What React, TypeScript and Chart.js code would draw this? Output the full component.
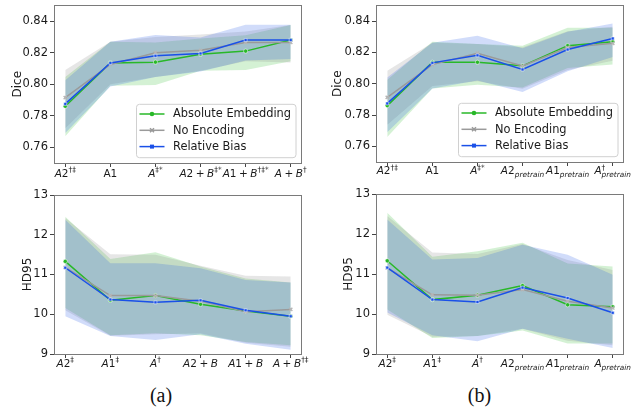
import React, { useEffect, useRef } from "react";
import { Chart, registerables } from "chart.js";
Chart.register(...registerables);

// ---------- data ----------
const seriesNames = ["Absolute Embedding", "No Encoding", "Relative Bias"];
const seriesColors = ["#28b828", "#9a9a9a", "#1a50e8"];
const bandColors = ["rgba(40,184,40,0.2)", "rgba(128,128,128,0.2)", "rgba(26,80,232,0.2)"];
const xPositions = [0, 1, 2, 3, 4, 5];

const xLabelsDiceA = ["$A2^{†‡}", "A1", "$A^{‡*}", "$A2 + B^{‡*}", "$A1 + B^{†‡*}", "$A + B^{†}"];
const xLabelsDiceB = ["$A2^{†‡}", "A1", "$A^{‡*}", "$A2_{pretrain}", "$A1_{pretrain}", "$A^{†}_{pretrain}"];
const xLabelsHdA = ["$A2^{‡}", "$A1^{‡}", "$A^{†}", "$A2 + B", "$A1 + B", "$A + B^{†‡}"];
const xLabelsHdB = ["$A2^{‡}", "$A1^{‡}", "$A^{†}", "$A2_{pretrain}", "$A1_{pretrain}", "$A_{pretrain}"];

const diceTicks = [0.76, 0.78, 0.8, 0.82, 0.84];
const hdTicks = [9, 10, 11, 12, 13];

// Dice (a)
const diceA_abs = [0.786, 0.8135, 0.814, 0.819, 0.821, 0.828];
const diceA_none = [0.7915, 0.8125, 0.82, 0.8215, 0.8265, 0.8265];
const diceA_rel = [0.7875, 0.8135, 0.818, 0.8195, 0.828, 0.828];
const diceA_abs_hi = [0.8045, 0.827, 0.8265, 0.829, 0.831, 0.8375];
const diceA_abs_lo = [0.767, 0.799, 0.7995, 0.8085, 0.809, 0.8145];
const diceA_none_hi = [0.809, 0.827, 0.83, 0.8315, 0.8335, 0.8375];
const diceA_none_lo = [0.772, 0.8, 0.8045, 0.8085, 0.8145, 0.8138];
const diceA_rel_hi = [0.8025, 0.827, 0.8312, 0.8297, 0.8377, 0.8377];
const diceA_rel_lo = [0.769, 0.7985, 0.8045, 0.808, 0.815, 0.816];

// Dice (b)
const diceB_abs = [0.786, 0.8137, 0.8137, 0.8114, 0.8243, 0.8268];
const diceB_none = [0.7913, 0.8122, 0.8195, 0.8114, 0.8231, 0.8258];
const diceB_rel = [0.7874, 0.8133, 0.8181, 0.8091, 0.8218, 0.8289];
const diceB_abs_hi = [0.8025, 0.8268, 0.8254, 0.8243, 0.8358, 0.8358];
const diceB_abs_lo = [0.766, 0.797, 0.7993, 0.7975, 0.8101, 0.8122];
const diceB_none_hi = [0.8083, 0.8262, 0.8254, 0.8233, 0.8335, 0.8364];
const diceB_none_lo = [0.7738, 0.7985, 0.8015, 0.7967, 0.8087, 0.8147];
const diceB_rel_hi = [0.8039, 0.8262, 0.8306, 0.8227, 0.8331, 0.8385];
const diceB_rel_lo = [0.769, 0.797, 0.802, 0.7947, 0.808, 0.817];

// HD95 (a)
const hdA_abs = [11.33, 10.35, 10.47, 10.25, 10.08, 9.95];
const hdA_none = [11.18, 10.47, 10.47, 10.33, 10.06, 10.12];
const hdA_rel = [11.17, 10.37, 10.3, 10.35, 10.1, 9.95];
const hdA_abs_hi = [12.45, 11.39, 11.56, 11.2, 10.9, 10.8];
const hdA_abs_lo = [10.16, 9.47, 9.52, 9.47, 9.3, 9.22];
const hdA_none_hi = [12.42, 11.51, 11.5, 11.22, 10.97, 10.95];
const hdA_none_lo = [10.1, 9.46, 9.5, 9.52, 9.28, 9.18];
const hdA_rel_hi = [12.38, 11.28, 11.28, 11.16, 10.86, 10.8];
const hdA_rel_lo = [9.95, 9.45, 9.35, 9.5, 9.26, 9.11];

// HD95 (b)
const hdB_abs = [11.33, 10.36, 10.47, 10.71, 10.23, 10.18];
const hdB_none = [11.15, 10.48, 10.47, 10.61, 10.32, 10.15];
const hdB_rel = [11.16, 10.36, 10.3, 10.66, 10.4, 10.03];
const hdB_abs_hi = [12.53, 11.43, 11.57, 11.78, 11.26, 11.19];
const hdB_abs_lo = [10.11, 9.4, 9.45, 9.59, 9.26, 9.26];
const hdB_none_hi = [12.45, 11.54, 11.5, 11.75, 11.35, 11.1];
const hdB_none_lo = [9.98, 9.43, 9.45, 9.63, 9.33, 9.22];
const hdB_rel_hi = [12.36, 11.36, 11.4, 11.73, 11.48, 10.98];
const hdB_rel_lo = [10.04, 9.47, 9.32, 9.63, 9.38, 9.15];

// ---------- helpers ----------
const FONT = '"DejaVu Sans", sans-serif';
const pts = (arr: number[]) => arr.map((v, i) => ({ x: xPositions[i], y: v }));

type Seg = { text: string; kind: "base" | "sup" | "sub" };
function parseLabel(raw: string) {
  let s = raw;
  let math = false;
  if (s.startsWith("$")) {
    math = true;
    s = s.slice(1);
  }
  const segs: Seg[] = [];
  let buf = "";
  let i = 0;
  while (i < s.length) {
    const c = s[i];
    if ((c === "^" || c === "_") && s[i + 1] === "{") {
      if (buf) {
        segs.push({ text: buf, kind: "base" });
        buf = "";
      }
      const end = s.indexOf("}", i);
      segs.push({ text: s.slice(i + 2, end), kind: c === "^" ? "sup" : "sub" });
      i = end + 1;
    } else {
      buf += c;
      i++;
    }
  }
  if (buf) segs.push({ text: buf, kind: "base" });
  return { math, segs };
}

function drawMathLabel(ctx: CanvasRenderingContext2D, raw: string, cx: number, baseY: number) {
  const { math, segs } = parseLabel(raw);
  const baseSize = 10.5;
  const scriptSize = 7.4;
  const items: { ch: string; font: string; x: number; dy: number }[] = [];
  let x = 0;
  let supStart = -1;
  let supEnd = 0;
  for (let k = 0; k < segs.length; k++) {
    const seg = segs[k];
    const size = seg.kind === "base" ? baseSize : scriptSize;
    const dy = seg.kind === "sup" ? -4.6 : seg.kind === "sub" ? 3 : 0;
    let sx = x;
    if (seg.kind === "sub" && k > 0 && segs[k - 1].kind === "sup") {
      sx = supStart;
    }
    const start = sx;
    for (const ch of seg.text) {
      if (math && ch === " ") {
        sx += baseSize * 0.24;
        continue;
      }
      const italic = math && /[A-Za-z]/.test(ch);
      const font = `${italic ? "italic " : ""}${size}px ${FONT}`;
      ctx.font = font;
      const w = ctx.measureText(ch).width;
      items.push({ ch, font, x: sx, dy });
      sx += w;
    }
    if (seg.kind === "sup") {
      supStart = start;
      supEnd = sx;
      x = sx;
    } else if (seg.kind === "sub" && k > 0 && segs[k - 1].kind === "sup") {
      x = Math.max(sx, supEnd);
    } else {
      x = sx;
    }
  }
  const total = x;
  const left = cx - total / 2;
  ctx.fillStyle = "#1a1a1a";
  ctx.textAlign = "left";
  ctx.textBaseline = "alphabetic";
  for (const it of items) {
    ctx.font = it.font;
    ctx.fillText(it.ch, left + it.x, baseY + it.dy);
  }
}

const framePlugin = {
  id: "frameAndLabels",
  afterDraw(chart: any) {
    const o = chart.options.plugins.frameAndLabels;
    if (!o) return;
    const { ctx, chartArea } = chart;
    ctx.save();
    ctx.strokeStyle = "#7a7a7a";
    ctx.lineWidth = 1;
    ctx.strokeRect(
      Math.round(chartArea.left) + 0.5,
      Math.round(chartArea.top) + 0.5,
      Math.round(chartArea.right - chartArea.left) - 1,
      Math.round(chartArea.bottom - chartArea.top)
    );
    const xs = chart.scales.x;
    o.labels.forEach((lab: string, i: number) => {
      drawMathLabel(ctx, lab, xs.getPixelForValue(xPositions[i]), chartArea.bottom + o.labelOffset);
    });
    ctx.restore();
  },
};

function drawMarker(ctx: CanvasRenderingContext2D, style: string, x: number, y: number, color: string) {
  ctx.save();
  if (style === "circle") {
    ctx.fillStyle = color;
    ctx.beginPath();
    ctx.arc(x, y, 2.3, 0, Math.PI * 2);
    ctx.fill();
  } else if (style === "rect") {
    ctx.fillStyle = color;
    ctx.fillRect(x - 2, y - 2, 4, 4);
  } else {
    ctx.strokeStyle = color;
    ctx.lineWidth = 1.5;
    ctx.beginPath();
    ctx.moveTo(x - 2, y - 2);
    ctx.lineTo(x + 2, y + 2);
    ctx.moveTo(x + 2, y - 2);
    ctx.lineTo(x - 2, y + 2);
    ctx.stroke();
  }
  ctx.restore();
}

const pointStyles = ["circle", "crossRot", "rect"];

const legendPlugin = {
  id: "insideLegend",
  afterDatasetsDraw(chart: any) {
    const o = chart.options.plugins.insideLegend;
    if (!o) return;
    const { ctx, chartArea } = chart;
    ctx.save();
    const font = `11.4px ${FONT}`;
    ctx.font = font;
    const textW = Math.max(...seriesNames.map((n) => ctx.measureText(n).width));
    const w = 3 + 25 + 8.5 + textW + 5;
    const h = 53.4;
    const x1 = chartArea.right - 6;
    const y1 = chartArea.bottom - 5.3;
    const x0 = x1 - w;
    const y0 = y1 - h;
    ctx.beginPath();
    const r = 3;
    ctx.moveTo(x0 + r, y0);
    ctx.lineTo(x1 - r, y0);
    ctx.quadraticCurveTo(x1, y0, x1, y0 + r);
    ctx.lineTo(x1, y1 - r);
    ctx.quadraticCurveTo(x1, y1, x1 - r, y1);
    ctx.lineTo(x0 + r, y1);
    ctx.quadraticCurveTo(x0, y1, x0, y1 - r);
    ctx.lineTo(x0, y0 + r);
    ctx.quadraticCurveTo(x0, y0, x0 + r, y0);
    ctx.closePath();
    ctx.fillStyle = "rgba(255,255,255,0.8)";
    ctx.fill();
    ctx.strokeStyle = "#d0d0d0";
    ctx.lineWidth = 1;
    ctx.stroke();
    seriesNames.forEach((name, i) => {
      const cy = y0 + 9.7 + i * 16.3;
      ctx.strokeStyle = seriesColors[i];
      ctx.lineWidth = 1.5;
      ctx.beginPath();
      ctx.moveTo(x0 + 3, cy);
      ctx.lineTo(x0 + 28, cy);
      ctx.stroke();
      drawMarker(ctx, pointStyles[i], x0 + 15.5, cy, seriesColors[i]);
      ctx.fillStyle = "#1a1a1a";
      ctx.font = font;
      ctx.textAlign = "left";
      ctx.textBaseline = "middle";
      ctx.fillText(name, x0 + 36.5, cy + 0.5);
    });
    ctx.restore();
  },
};

type PanelSpec = {
  left: number;
  top: number;
  w: number;
  h: number;
  padTop: number;
  padRight: number;
  yWidth: number;
  xHeight: number;
  yMin: number;
  yMax: number;
  yTicks: number[];
  decimals: number;
  yTitle: string;
  titlePad: number;
  labels: string[];
  labelOffset: number;
  legend: boolean;
  means: number[][];
  his: number[][];
  los: number[][];
};

function buildConfig(p: PanelSpec): any {
  const datasets: any[] = [];
  // lines: index 0 drawn on top -> blue first
  [2, 1, 0].forEach((s) => {
    datasets.push({
      type: "line",
      label: seriesNames[s],
      data: pts(p.means[s]),
      borderColor: seriesColors[s],
      backgroundColor: seriesColors[s],
      borderWidth: 1.5,
      pointStyle: pointStyles[s],
      pointRadius: s === 1 ? 2.3 : 2.1,
      pointBorderWidth: s === 1 ? 1.4 : 0.5,
      pointBorderColor: s === 1 ? "#b5b5b5" : "#ffffff",
      pointBackgroundColor: seriesColors[s],
      tension: 0,
      fill: false,
    });
  });
  // bands: blue lowest index among bands -> drawn last
  [2, 1, 0].forEach((s) => {
    datasets.push({
      type: "line",
      data: pts(p.los[s]),
      borderWidth: 0,
      borderColor: "rgba(0,0,0,0)",
      pointRadius: 0,
      fill: false,
      tension: 0,
    });
    datasets.push({
      type: "line",
      data: pts(p.his[s]),
      borderWidth: 0,
      borderColor: "rgba(0,0,0,0)",
      backgroundColor: bandColors[s],
      pointRadius: 0,
      fill: "-1",
      tension: 0,
    });
  });

  return {
    type: "line",
    data: { datasets },
    plugins: [framePlugin, legendPlugin],
    options: {
      responsive: false,
      maintainAspectRatio: false,
      animation: false,
      devicePixelRatio: 1,
      layout: { padding: { left: 0, top: p.padTop, right: p.padRight, bottom: 0 } },
      plugins: {
        legend: { display: false },
        tooltip: { enabled: false },
        filler: { drawTime: "beforeDatasetsDraw", propagate: false },
        frameAndLabels: { labels: p.labels, labelOffset: p.labelOffset },
        insideLegend: p.legend ? {} : false,
      },
      scales: {
        x: {
          type: "linear",
          min: -0.25,
          max: 5.25,
          afterBuildTicks: (s: any) => {
            s.ticks = xPositions.map((v) => ({ value: v }));
          },
          ticks: { display: false },
          grid: { display: true, drawOnChartArea: false, drawTicks: true, tickLength: 4, color: "#444" },
          border: { display: false },
          afterFit: (s: any) => {
            s.height = p.xHeight;
            s.paddingLeft = 0;
            s.paddingRight = 0;
            s.paddingTop = 0;
            s.paddingBottom = 0;
          },
        },
        y: {
          type: "linear",
          min: p.yMin,
          max: p.yMax,
          afterBuildTicks: (s: any) => {
            s.ticks = p.yTicks.map((v) => ({ value: v }));
          },
          ticks: {
            font: { family: "DejaVu Sans", size: 11.5 },
            color: "#1a1a1a",
            padding: 2,
            autoSkip: false,
            callback: (v: any) => Number(v).toFixed(p.decimals),
          },
          grid: { display: true, drawOnChartArea: false, drawTicks: true, tickLength: 4, color: "#444" },
          border: { display: false },
          title: {
            display: true,
            text: p.yTitle,
            font: { family: "DejaVu Sans", size: 12 },
            color: "#1a1a1a",
            padding: { top: p.titlePad, bottom: 0 },
          },
          afterFit: (s: any) => {
            s.width = p.yWidth;
            s.paddingLeft = 0;
            s.paddingRight = 0;
            s.paddingTop = 0;
            s.paddingBottom = 0;
          },
        },
      },
    },
  };
}

const panels: PanelSpec[] = [
  {
    left: 0, top: 0, w: 318, h: 190, padTop: 5, padRight: 16, yWidth: 54, xHeight: 27,
    yMin: 0.75, yMax: 0.85, yTicks: diceTicks, decimals: 2, yTitle: "Dice", titlePad: 10.5,
    labels: xLabelsDiceA, labelOffset: 13.7, legend: true,
    means: [diceA_abs, diceA_none, diceA_rel],
    his: [diceA_abs_hi, diceA_none_hi, diceA_rel_hi],
    los: [diceA_abs_lo, diceA_none_lo, diceA_rel_lo],
  },
  {
    left: 318, top: 0, w: 320, h: 190, padTop: 3, padRight: 14, yWidth: 58, xHeight: 28,
    yMin: 0.75, yMax: 0.85, yTicks: diceTicks, decimals: 2, yTitle: "Dice", titlePad: 12.5,
    labels: xLabelsDiceB, labelOffset: 12.2, legend: true,
    means: [diceB_abs, diceB_none, diceB_rel],
    his: [diceB_abs_hi, diceB_none_hi, diceB_rel_hi],
    los: [diceB_abs_lo, diceB_none_lo, diceB_rel_lo],
  },
  {
    left: 0, top: 185, w: 318, h: 190, padTop: 10, padRight: 16, yWidth: 54, xHeight: 21,
    yMin: 9, yMax: 13, yTicks: hdTicks, decimals: 0, yTitle: "HD95", titlePad: 20.5,
    labels: xLabelsHdA, labelOffset: 12.9, legend: false,
    means: [hdA_abs, hdA_none, hdA_rel],
    his: [hdA_abs_hi, hdA_none_hi, hdA_rel_hi],
    los: [hdA_abs_lo, hdA_none_lo, hdA_rel_lo],
  },
  {
    left: 318, top: 185, w: 320, h: 190, padTop: 9, padRight: 14, yWidth: 58, xHeight: 21,
    yMin: 9, yMax: 13, yTicks: hdTicks, decimals: 0, yTitle: "HD95", titlePad: 23.5,
    labels: xLabelsHdB, labelOffset: 12.6, legend: false,
    means: [hdB_abs, hdB_none, hdB_rel],
    his: [hdB_abs_hi, hdB_none_hi, hdB_rel_hi],
    los: [hdB_abs_lo, hdB_none_lo, hdB_rel_lo],
  },
];

function Panel({ spec }: { spec: PanelSpec }) {
  const ref = useRef<HTMLCanvasElement>(null);
  useEffect(() => {
    const chart = new Chart(ref.current as HTMLCanvasElement, buildConfig(spec));
    return () => chart.destroy();
  }, [spec]);
  return (
    <canvas
      ref={ref}
      width={spec.w}
      height={spec.h}
      style={{ position: "absolute", left: spec.left, top: spec.top, width: spec.w, height: spec.h }}
    />
  );
}

const captions = [
  { text: "(a)", cx: 161 },
  { text: "(b)", cx: 479.5 },
];

export default function App() {
  return (
    <div
      style={{
        position: "absolute",
        left: 0,
        top: 0,
        width: 638,
        height: 409,
        background: "#ffffff",
        overflow: "hidden",
      }}
    >
      {panels.map((p, i) => (
        <Panel key={i} spec={p} />
      ))}
      {captions.map((c) => (
        <div
          key={c.text}
          style={{
            position: "absolute",
            left: c.cx - 40,
            top: 384.5,
            width: 80,
            textAlign: "center",
            fontFamily: '"Liberation Serif", "Times New Roman", serif',
            fontSize: 20,
            lineHeight: "20px",
            color: "#111",
          }}
        >
          {c.text}
        </div>
      ))}
    </div>
  );
}
